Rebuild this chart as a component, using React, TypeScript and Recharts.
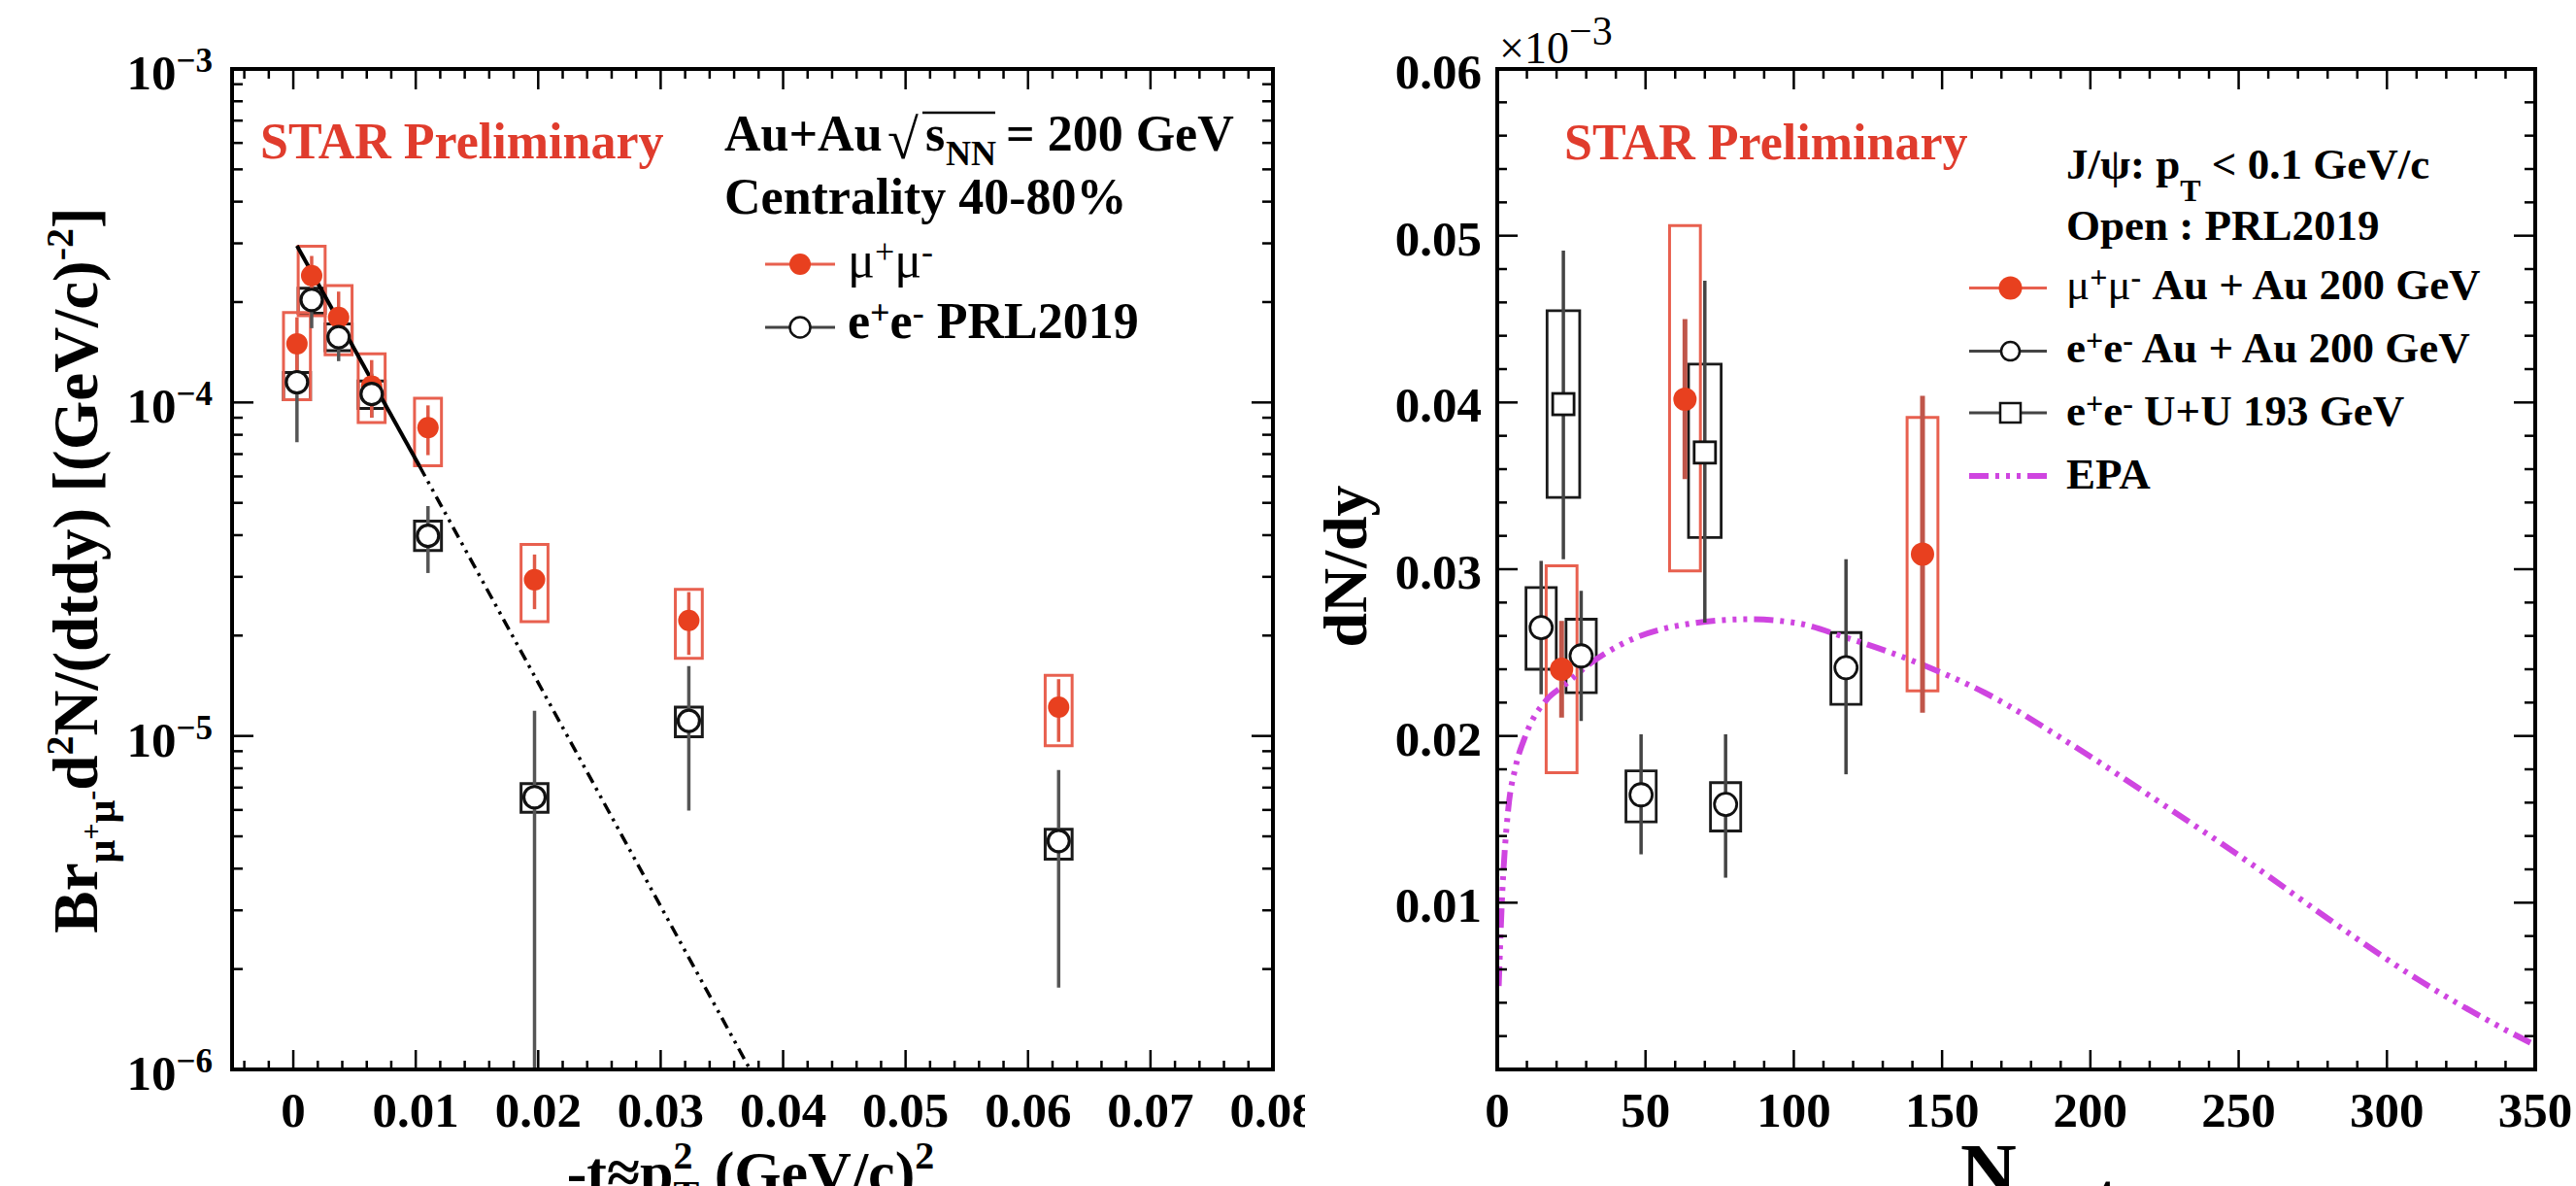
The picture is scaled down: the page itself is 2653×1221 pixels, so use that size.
import React from 'react';
import { ComposedChart, XAxis, YAxis, Scatter, Line, ReferenceArea, ErrorBar } from 'recharts';

// ================= LEFT PANEL DATA (-t vs Br dN/dtdy, log scale) =================
const tMuMu = [0.0003, 0.0015, 0.0037, 0.0064, 0.011, 0.0197, 0.0323, 0.0625];
const yMuMu = [1.5e-4, 2.4e-4, 1.8e-4, 1.12e-4, 8.4e-5, 2.94e-5, 2.22e-5, 1.22e-5];
const muMuStatLo = [1.2e-4, 2.05e-4, 1.45e-4, 9.0e-5, 6.95e-5, 2.4e-5, 1.75e-5, 9.6e-6];
const muMuStatHi = [1.8e-4, 2.75e-4, 2.15e-4, 1.34e-4, 9.8e-5, 3.5e-5, 2.7e-5, 1.48e-5];
const muMuSysLo = [1.02e-4, 1.82e-4, 1.39e-4, 8.7e-5, 6.46e-5, 2.2e-5, 1.71e-5, 9.35e-6];
const muMuSysHi = [1.86e-4, 2.94e-4, 2.24e-4, 1.4e-4, 1.03e-4, 3.75e-5, 2.75e-5, 1.52e-5];

const tEE = [0.0003, 0.0015, 0.0037, 0.0064, 0.011, 0.0197, 0.0323, 0.0625];
const yEE = [1.15e-4, 2.03e-4, 1.57e-4, 1.06e-4, 3.98e-5, 6.55e-6, 1.11e-5, 4.84e-6];
const eeStatLo = [7.6e-5, 1.67e-4, 1.33e-4, 9.0e-5, 3.08e-5, 1.0e-6, 5.97e-6, 1.76e-6];
const eeStatHi = [1.54e-4, 2.39e-4, 1.81e-4, 1.22e-4, 4.89e-5, 1.19e-5, 1.62e-5, 7.9e-6];
const eeSysLo = [1.02e-4, 1.85e-4, 1.43e-4, 9.6e-5, 3.6e-5, 5.9e-6, 9.95e-6, 4.27e-6];
const eeSysHi = [1.23e-4, 2.2e-4, 1.72e-4, 1.16e-4, 4.41e-5, 7.19e-6, 1.22e-5, 5.25e-6];
const tBoxHalf = 0.0011;

const fitSolidT = [0.0003, 0.0103];
const fitSolidY = [2.95e-4, 6.45e-5];
const fitDashT = [0.0103, 0.0373];
const fitDashY = [6.45e-5, 1.0e-6];

const leftXMajor = [0, 0.01, 0.02, 0.03, 0.04, 0.05, 0.06, 0.07, 0.08];
const leftXLabels = ['0', '0.01', '0.02', '0.03', '0.04', '0.05', '0.06', '0.07', '0.08'];
const leftYMajor = [1e-6, 1e-5, 1e-4, 1e-3];
const leftYExp = ['\u22126', '\u22125', '\u22124', '\u22123'];

// ================= RIGHT PANEL DATA (dN/dy vs Npart) =================
const nMuMu = [21.7, 63.3, 143.4];
const yMuMuR = [0.024, 0.0402, 0.0309];
const muRStatLo = [0.0211, 0.0354, 0.0214];
const muRStatHi = [0.0269, 0.045, 0.0404];
const muRSysLo = [0.0178, 0.0299, 0.0227];
const muRSysHi = [0.0302, 0.0506, 0.0391];

const nAuAu = [14.8, 28.3, 48.5, 77.0, 117.6];
const yAuAu = [0.0265, 0.0248, 0.01647, 0.0159, 0.0241];
const auStatLo = [0.0225, 0.0209, 0.0129, 0.0115, 0.0177];
const auStatHi = [0.0305, 0.0287, 0.0201, 0.0201, 0.0306];
const auSysLo = [0.024, 0.0226, 0.01485, 0.0143, 0.0219];
const auSysHi = [0.0289, 0.027, 0.0179, 0.0172, 0.0262];

const nUU = [22.3, 70.0];
const yUU = [0.0399, 0.037];
const uuStatLo = [0.0306, 0.0268];
const uuStatHi = [0.0491, 0.0473];
const uuSysLo = [0.0343, 0.0319];
const uuSysHi = [0.0455, 0.0423];

const nBoxHalfMu = 5.2;
const nBoxHalfAu = 5.1;
const nBoxHalfUU = 5.5;

const epaN = [0.5, 1.5, 3.7, 6, 9.5, 16.8, 22.3, 31, 41.9, 60.5, 84.5, 100, 117.6, 143, 164.3, 193.5, 222.7, 252, 281.3, 310.4, 339.7, 348.4];
const epaY = [0.005, 0.0098, 0.0156, 0.018, 0.02, 0.0222, 0.023, 0.0243, 0.0255, 0.0266, 0.027, 0.0268, 0.0259, 0.0243, 0.0226, 0.0195, 0.0161, 0.0126, 0.0089, 0.0054, 0.0024, 0.0016];

const rightXMajor = [0, 50, 100, 150, 200, 250, 300, 350];
const rightXLabels = ['0', '50', '100', '150', '200', '250', '300', '350'];
const rightYMajor = [0, 0.01, 0.02, 0.03, 0.04, 0.05, 0.06];
const rightYLabels = ['', '0.01', '0.02', '0.03', '0.04', '0.05', '0.06'];

// ================= derived tick lists =================
const leftXTicks: number[] = [];
for (let i = -2; i <= 40; i++) leftXTicks.push((i * 2) / 1000);
const leftYTicks: number[] = [];
for (let e = -6; e <= -4; e++) for (let m = 1; m <= 9; m++) leftYTicks.push(m * Math.pow(10, e));
leftYTicks.push(1e-3);
const rightXTicks: number[] = [];
for (let i = 0; i <= 35; i++) rightXTicks.push(i * 10);
const rightYTicks: number[] = [];
for (let i = 0; i <= 30; i++) rightYTicks.push((i * 2) / 1000);

// ================= styles =================
const FONT = "'Liberation Serif', 'Times New Roman', Times, serif";
const TICK_FS = 51;
const RED = '#e8401f';
const RED_TEXT = '#e03c2d';
const RED_BOX = '#e8604f';
const RED_ERR = '#e05a48';
const BLK_BOX = '#1a1a1a';
const BLK_ERR = '#555';
const MAGENTA = '#cf45e0';
const EPA_DASH = '20 7 4 7 4 7 4 7';
const AXIS_LINE = { stroke: '#000', strokeWidth: 4, strokeLinecap: 'square' as const };

const near = (a: number, b: number) => Math.abs(a - b) <= 1e-12 + 1e-6 * Math.abs(b);
const idxOf = (arr: number[], v: number) => arr.findIndex((m) => near(v, m));

function bottomTick(majors: number[], labels: string[]) {
  return (p: any) => {
    const { x, y, payload } = p;
    const i = idxOf(majors, payload.value);
    const major = i >= 0;
    return (
      <g>
        <line x1={x} x2={x} y1={y} y2={y - (major ? 20 : 9)} stroke="#000" strokeWidth={2.5} />
        {major && labels[i] !== '' && (
          <text x={x} y={y + 59} textAnchor="middle" fontFamily={FONT} fontWeight="bold" fontSize={TICK_FS} fill="#000">
            {labels[i]}
          </text>
        )}
      </g>
    );
  };
}
function topTick(majors: number[]) {
  return (p: any) => {
    const { x, y, payload } = p;
    const major = idxOf(majors, payload.value) >= 0;
    return <line x1={x} x2={x} y1={y} y2={y + (major ? 21 : 10)} stroke="#000" strokeWidth={2.5} />;
  };
}
function leftLinTick(majors: number[], labels: string[]) {
  return (p: any) => {
    const { x, y, payload } = p;
    const i = idxOf(majors, payload.value);
    const major = i >= 0;
    return (
      <g>
        <line x1={x} x2={x + (major ? 21 : 10)} y1={y} y2={y} stroke="#000" strokeWidth={2.5} />
        {major && labels[i] !== '' && (
          <text x={x - 16} y={y + 20} textAnchor="end" fontFamily={FONT} fontWeight="bold" fontSize={TICK_FS} fill="#000">
            {labels[i]}
          </text>
        )}
      </g>
    );
  };
}
function leftLogTick(majors: number[], exps: string[]) {
  return (p: any) => {
    const { x, y, payload } = p;
    const i = idxOf(majors, payload.value);
    const major = i >= 0;
    return (
      <g>
        <line x1={x} x2={x + (major ? 22 : 11)} y1={y} y2={y} stroke="#000" strokeWidth={2.5} />
        {major && (
          <text x={x - 20} y={y + 21} textAnchor="end" fontFamily={FONT} fontWeight="bold" fontSize={TICK_FS} fill="#000">
            10
            <tspan dy={-18} fontSize={35}>{exps[i]}</tspan>
          </text>
        )}
      </g>
    );
  };
}
function rightTick(majors: number[]) {
  return (p: any) => {
    const { x, y, payload } = p;
    const major = idxOf(majors, payload.value) >= 0;
    return <line x1={x} x2={x - (major ? 22 : 11)} y1={y} y2={y} stroke="#000" strokeWidth={2.5} />;
  };
}

const mkPts = (xs: number[], ys: number[], lo: number[], hi: number[]) =>
  xs.map((x, i) => ({ x, y: ys[i], err: [ys[i] - lo[i], hi[i] - ys[i]] }));
const mkLine = (xs: number[], ys: number[]) => xs.map((x, i) => ({ x, y: ys[i] }));

const NoShape = () => <g />;
const RedDot = (r: number) => (p: any) => <circle cx={p.cx} cy={p.cy} r={r} fill={RED} />;
const OpenCircle = (r: number, sw: number) => (p: any) => (
  <circle cx={p.cx} cy={p.cy} r={r} fill="#fff" stroke="#111" strokeWidth={sw} />
);
const OpenSquare = (h: number) => (p: any) => (
  <rect x={p.cx - h} y={p.cy - h} width={2 * h} height={2 * h} fill="#fff" stroke="#111" strokeWidth={2.8} />
);

function boxes(xs: number[], lo: number[], hi: number[], half: number, color: string, sw: number, key: string) {
  return xs.map((x, i) => (
    <ReferenceArea
      key={key + i}
      xAxisId="b"
      yAxisId="l"
      x1={x - half}
      x2={x + half}
      y1={lo[i]}
      y2={hi[i]}
      fill="none"
      fillOpacity={0}
      stroke={color}
      strokeWidth={sw}
      ifOverflow="visible"
    />
  ));
}

function LeftChart() {
  const mu = mkPts(tMuMu, yMuMu, muMuStatLo, muMuStatHi);
  const ee = mkPts(tEE, yEE, eeStatLo, eeStatHi);
  return (
    <ComposedChart width={1344} height={1221} margin={{ top: 61, right: 23, bottom: 60, left: 139 }}>
      <XAxis xAxisId="b" type="number" dataKey="x" domain={[-0.005, 0.08]} allowDataOverflow ticks={leftXTicks} interval={0}
        tickSize={0} tickMargin={0} tickLine={false} height={60} axisLine={AXIS_LINE} tick={bottomTick(leftXMajor, leftXLabels)} />
      <XAxis xAxisId="t" orientation="top" type="number" dataKey="x" domain={[-0.005, 0.08]} allowDataOverflow ticks={leftXTicks} interval={0}
        tickSize={0} tickMargin={0} tickLine={false} height={10} axisLine={AXIS_LINE} tick={topTick(leftXMajor)} />
      <YAxis yAxisId="l" type="number" dataKey="y" scale="log" domain={[1e-6, 1e-3]} allowDataOverflow ticks={leftYTicks} interval={0}
        tickSize={0} tickMargin={0} tickLine={false} width={100} axisLine={AXIS_LINE} tick={leftLogTick(leftYMajor, leftYExp)} />
      <YAxis yAxisId="r" orientation="right" type="number" dataKey="y" scale="log" domain={[1e-6, 1e-3]} allowDataOverflow ticks={leftYTicks} interval={0}
        tickSize={0} tickMargin={0} tickLine={false} width={10} axisLine={AXIS_LINE} tick={rightTick(leftYMajor)} />
      {boxes(tEE, eeSysLo, eeSysHi, tBoxHalf, BLK_BOX, 3, 'eeb')}
      {boxes(tMuMu, muMuSysLo, muMuSysHi, tBoxHalf, RED_BOX, 3, 'mub')}
      <Line xAxisId="b" yAxisId="l" data={mkLine(fitSolidT, fitSolidY)} dataKey="y" type="linear" stroke="#000" strokeWidth={4} dot={false} isAnimationActive={false} />
      <Line xAxisId="b" yAxisId="l" data={mkLine(fitDashT, fitDashY)} dataKey="y" type="linear" stroke="#000" strokeWidth={3.5} strokeDasharray="12 6 3 6 3 6" dot={false} isAnimationActive={false} />
      <Scatter xAxisId="b" yAxisId="l" data={ee} shape={NoShape} isAnimationActive={false}>
        <ErrorBar dataKey="err" direction="y" width={0} stroke={BLK_ERR} strokeWidth={3.5} isAnimationActive={false} />
      </Scatter>
      <Scatter xAxisId="b" yAxisId="l" data={mu} shape={RedDot(11)} isAnimationActive={false}>
        <ErrorBar dataKey="err" direction="y" width={0} stroke={RED_ERR} strokeWidth={3.5} isAnimationActive={false} />
      </Scatter>
      <Scatter xAxisId="b" yAxisId="l" data={ee} shape={OpenCircle(11, 3.2)} isAnimationActive={false} />
    </ComposedChart>
  );
}

function RightChart() {
  const mu = mkPts(nMuMu, yMuMuR, muRStatLo, muRStatHi);
  const au = mkPts(nAuAu, yAuAu, auStatLo, auStatHi);
  const uu = mkPts(nUU, yUU, uuStatLo, uuStatHi);
  return (
    <ComposedChart width={1309} height={1221} margin={{ top: 61, right: 32, bottom: 60, left: 98 }}>
      <XAxis xAxisId="b" type="number" dataKey="x" domain={[0, 350]} allowDataOverflow ticks={rightXTicks} interval={0}
        tickSize={0} tickMargin={0} tickLine={false} height={60} axisLine={AXIS_LINE} tick={bottomTick(rightXMajor, rightXLabels)} />
      <XAxis xAxisId="t" orientation="top" type="number" dataKey="x" domain={[0, 350]} allowDataOverflow ticks={rightXTicks} interval={0}
        tickSize={0} tickMargin={0} tickLine={false} height={10} axisLine={AXIS_LINE} tick={topTick(rightXMajor)} />
      <YAxis yAxisId="l" type="number" dataKey="y" domain={[0, 0.06]} allowDataOverflow ticks={rightYTicks} interval={0}
        tickSize={0} tickMargin={0} tickLine={false} width={100} axisLine={AXIS_LINE} tick={leftLinTick(rightYMajor, rightYLabels)} />
      <YAxis yAxisId="r" orientation="right" type="number" dataKey="y" domain={[0, 0.06]} allowDataOverflow ticks={rightYTicks} interval={0}
        tickSize={0} tickMargin={0} tickLine={false} width={10} axisLine={AXIS_LINE} tick={rightTick(rightYMajor)} />
      {boxes(nAuAu, auSysLo, auSysHi, nBoxHalfAu, BLK_BOX, 2.8, 'aub')}
      {boxes(nUU, uuSysLo, uuSysHi, nBoxHalfUU, BLK_BOX, 2.8, 'uub')}
      {boxes(nMuMu, muRSysLo, muRSysHi, nBoxHalfMu, RED_BOX, 3, 'mub')}
      <Line xAxisId="b" yAxisId="l" data={mkLine(epaN, epaY)} dataKey="y" type="monotone" stroke={MAGENTA} strokeWidth={6} strokeDasharray={EPA_DASH} dot={false} isAnimationActive={false} />
      <Scatter xAxisId="b" yAxisId="l" data={au} shape={NoShape} isAnimationActive={false}>
        <ErrorBar dataKey="err" direction="y" width={0} stroke="#444" strokeWidth={3.5} isAnimationActive={false} />
      </Scatter>
      <Scatter xAxisId="b" yAxisId="l" data={uu} shape={NoShape} isAnimationActive={false}>
        <ErrorBar dataKey="err" direction="y" width={0} stroke="#444" strokeWidth={3.5} isAnimationActive={false} />
      </Scatter>
      <Scatter xAxisId="b" yAxisId="l" data={mu} shape={NoShape} isAnimationActive={false}>
        <ErrorBar dataKey="err" direction="y" width={0} stroke="#c0564a" strokeWidth={5} isAnimationActive={false} />
      </Scatter>
      <Scatter xAxisId="b" yAxisId="l" data={au} shape={OpenCircle(11.5, 2.8)} isAnimationActive={false} />
      <Scatter xAxisId="b" yAxisId="l" data={uu} shape={OpenSquare(11)} isAnimationActive={false} />
      <Scatter xAxisId="b" yAxisId="l" data={mu} shape={RedDot(12)} isAnimationActive={false} />
    </ComposedChart>
  );
}

const T = { fontFamily: FONT, fontWeight: 'bold' as const, fill: '#000' };

function Overlay() {
  return (
    <svg width={2653} height={1221} style={{ position: 'absolute', left: 0, top: 0 }}>
      {/* ---------- left panel texts ---------- */}
      <text x={268} y={163} {...T} fill={RED_TEXT} fontSize={52}>STAR Preliminary</text>
      <text x={746} y={155} {...T} fontSize={52}>Au+Au</text>
      <text x={914} y={163} {...T} fontWeight="normal" fontSize={58}>{'\u221A'}</text>
      <line x1={950} x2={1025} y1={116} y2={116} stroke="#000" strokeWidth={2.5} />
      <text x={953} y={155} {...T} fontSize={52}>s</text>
      <text x={974} y={170} {...T} fontSize={36}>NN</text>
      <text x={1036} y={155} {...T} fontSize={52}>= 200 GeV</text>
      <text x={746} y={220} {...T} fontSize={52}>Centrality 40-80%</text>
      <line x1={788} x2={860} y1={272} y2={272} stroke={RED_BOX} strokeWidth={3} />
      <circle cx={824} cy={272} r={11} fill={RED} />
      <text x={873} y={285} {...T} fontWeight="normal" fontSize={52}>
        μ<tspan dy={-14} fontSize={36}>+</tspan><tspan dy={14} fontSize={52}>μ</tspan><tspan dy={-14} fontSize={36}>-</tspan>
      </text>
      <line x1={788} x2={860} y1={337} y2={337} stroke="#444" strokeWidth={3} />
      <circle cx={824} cy={337} r={10.5} fill="#fff" stroke="#111" strokeWidth={2.5} />
      <text x={873} y={348} {...T} fontSize={52}>
        e<tspan dy={-14} fontSize={36}>+</tspan><tspan dy={14} fontSize={52}>e</tspan><tspan dy={-14} fontSize={36}>-</tspan><tspan dy={14} fontSize={52}> PRL2019</tspan>
      </text>
      <text x={100} y={587} {...T} fontSize={65} textAnchor="middle" transform="rotate(-90 100 587)">
        Br<tspan dy={18} fontSize={42}>μ</tspan><tspan dy={-14} fontSize={30}>+</tspan><tspan dy={14} fontSize={42}>μ</tspan><tspan dy={-14} fontSize={30}>-</tspan>
        <tspan dy={-4} fontSize={65}>d</tspan><tspan dy={-25} fontSize={40}>2</tspan><tspan dy={25} fontSize={65}>N/(dtdy) [(GeV/c)</tspan>
        <tspan dy={-25} fontSize={40}>-2</tspan><tspan dy={25} fontSize={65}>]</tspan>
      </text>
      <text x={773} y={1228} {...T} fontSize={62} textAnchor="middle">
        -t≈p<tspan dy={-25} fontSize={40}>2</tspan><tspan dx={-20} dy={40} fontSize={40}>T</tspan><tspan dy={-15} fontSize={62}> (GeV/c)</tspan><tspan dy={-25} fontSize={40}>2</tspan>
      </text>

      {/* ---------- right panel texts ---------- */}
      <text x={1544} y={65} fontFamily={FONT} fill="#000" fontSize={46}>
        ×10<tspan dy={-19} fontSize={42}>{'\u22123'}</tspan>
      </text>
      <text x={1611} y={164} {...T} fill={RED_TEXT} fontSize={52}>STAR Preliminary</text>
      <text x={2128} y={184} {...T} fontSize={45}>
        J/ψ: p<tspan dy={23} fontSize={32}>T</tspan><tspan dy={-23} fontSize={45}> {'<'} 0.1 GeV/c</tspan>
      </text>
      <text x={2128} y={247} {...T} fontSize={45}>Open : PRL2019</text>
      <line x1={2028} x2={2108} y1={296.6} y2={296.6} stroke={RED_BOX} strokeWidth={3} />
      <circle cx={2070.5} cy={296.6} r={12} fill={RED} />
      <text x={2128} y={308} {...T} fontSize={45}>
        <tspan fontWeight="normal">μ</tspan><tspan dy={-12} fontSize={32}>+</tspan><tspan dy={12} fontSize={45} fontWeight="normal">μ</tspan><tspan dy={-12} fontSize={32}>-</tspan><tspan dy={12} fontSize={45}> Au + Au 200 GeV</tspan>
      </text>
      <line x1={2028} x2={2108} y1={361.6} y2={361.6} stroke="#444" strokeWidth={3} />
      <circle cx={2070.5} cy={361.6} r={9.5} fill="#fff" stroke="#111" strokeWidth={2.5} />
      <text x={2128} y={373} {...T} fontSize={45}>
        e<tspan dy={-12} fontSize={32}>+</tspan><tspan dy={12} fontSize={45}>e</tspan><tspan dy={-12} fontSize={32}>-</tspan><tspan dy={12} fontSize={45}> Au + Au 200 GeV</tspan>
      </text>
      <line x1={2028} x2={2108} y1={425} y2={425} stroke="#444" strokeWidth={3} />
      <rect x={2060} y={415} width={21} height={20} fill="#fff" stroke="#111" strokeWidth={2.5} />
      <text x={2128} y={438} {...T} fontSize={45}>
        e<tspan dy={-12} fontSize={32}>+</tspan><tspan dy={12} fontSize={45}>e</tspan><tspan dy={-12} fontSize={32}>-</tspan><tspan dy={12} fontSize={45}> U+U 193 GeV</tspan>
      </text>
      <line x1={2028} x2={2108} y1={490} y2={490} stroke={MAGENTA} strokeWidth={6} strokeDasharray={EPA_DASH} />
      <text x={2128} y={503} {...T} fontSize={45}>EPA</text>
      <text x={1407} y={583} {...T} fontSize={64} textAnchor="middle" transform="rotate(-90 1407 583)">dN/dy</text>
      <text x={2019} y={1233} {...T} fontSize={80}>
        N<tspan dy={16} fontSize={56}>part</tspan>
      </text>
    </svg>
  );
}

export default function App() {
  return (
    <div style={{ position: 'absolute', left: 0, top: 0, width: 2653, height: 1221, background: '#fff', overflow: 'hidden' }}>
      <div style={{ position: 'absolute', left: 0, top: 0 }}>
        <LeftChart />
      </div>
      <div style={{ position: 'absolute', left: 1344, top: 0 }}>
        <RightChart />
      </div>
      <Overlay />
    </div>
  );
}
